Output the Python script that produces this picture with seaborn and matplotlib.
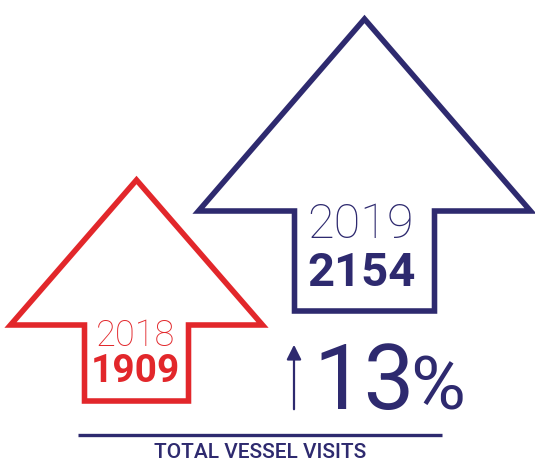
import matplotlib.pyplot as plt
import seaborn as sns
from matplotlib.patches import Polygon

# values shown in the infographic
years = ["2018", "2019"]
visits = [1909, 2154]
change_pct = 13
caption = "TOTAL VESSEL VISITS"

RED = "#E2272B"
NAVY = "#2E2A6F"

sns.set_theme(style="white")
plt.rcParams["font.family"] = ["Roboto", "DejaVu Sans"]

# arrow layout in pixel space: centre x, tip y, head base y, head half width, shaft half width, bottom y
arrows = [
    dict(cx=136.5, tip=180, head=325, hw=126, sw=52, bottom=401, color=RED),
    dict(cx=364.5, tip=19, head=211, hw=166, sw=70, bottom=311, color=NAVY),
]


def arrow_outline(a):
    cx = a["cx"]
    return [
        (cx, a["bottom"]),
        (cx + a["sw"], a["bottom"]),
        (cx + a["sw"], a["head"]),
        (cx + a["hw"], a["head"]),
        (cx, a["tip"]),
        (cx - a["hw"], a["head"]),
        (cx - a["sw"], a["head"]),
        (cx - a["sw"], a["bottom"]),
    ]


fig = plt.figure(figsize=(5.35, 4.63), dpi=100)
ax = fig.add_axes([0, 0, 1, 1])
ax.set_xlim(0, 535)
ax.set_ylim(463, 0)
ax.axis("off")

for a in arrows:
    ax.add_patch(Polygon(arrow_outline(a), closed=True, fill=False, edgecolor=a["color"],
                         linewidth=4.0, joinstyle="miter"))

# year labels and counts inside the shafts
ax.text(135, 336, years[0], color=RED, fontsize=26, fontweight="light", ha="center", va="center")
ax.text(135, 372, str(visits[0]), color=RED, fontsize=28, fontweight="bold", ha="center", va="center")
ax.text(361, 225, years[1], color=NAVY, fontsize=35, fontweight="light", ha="center", va="center")
ax.text(362, 273, str(visits[1]), color=NAVY, fontsize=34, fontweight="bold", ha="center", va="center")

# small up arrow and percent change
ax.annotate("", xy=(294, 342), xytext=(294, 412),
            arrowprops=dict(arrowstyle="-|>", color=NAVY, lw=1.6, mutation_scale=22))
ax.text(313, 409, str(change_pct), color=NAVY, fontsize=65, ha="left", va="baseline")
ax.text(410, 409, "%", color=NAVY, fontsize=54, ha="left", va="baseline")

# rule and caption
ax.plot([78, 442], [435, 435], color=NAVY, lw=2.4, solid_capstyle="butt")
ax.text(260, 453, caption, color=NAVY, fontsize=15, fontweight="medium", ha="center", va="center")

fig.savefig("out.png", dpi=100)
